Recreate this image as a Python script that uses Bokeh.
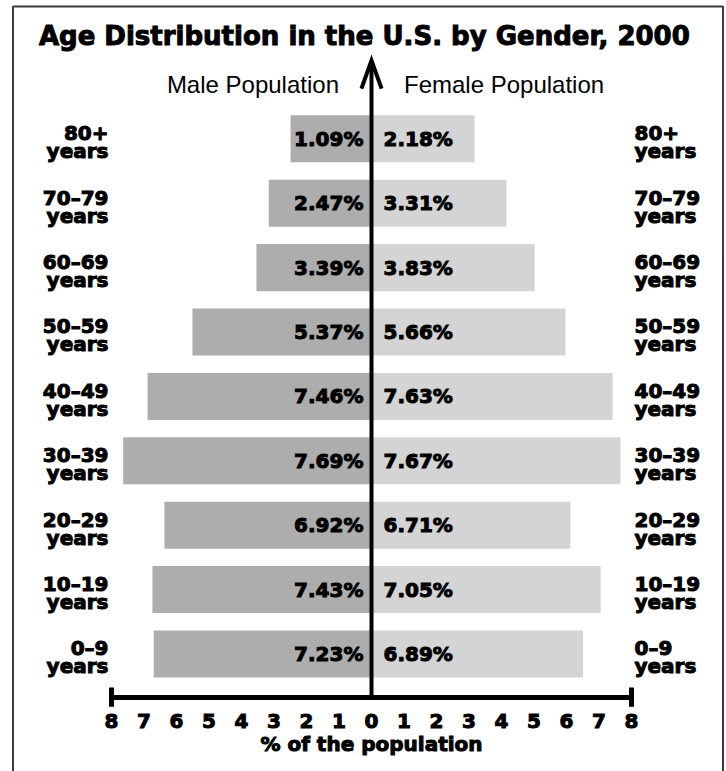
from bokeh.plotting import figure
from bokeh.models import Range1d, ColumnDataSource
from bokeh.core.properties import value
from bokeh.embed import file_html
from bokeh.resources import INLINE

# ---- data ----
age_top = ["0\u20139", "10\u201319", "20\u201329", "30\u201339", "40\u201349",
           "50\u201359", "60\u201369", "70\u201379", "80+"]
age_bottom = ["years"] * 9
male_pct = [7.23, 7.43, 6.92, 7.69, 7.46, 5.37, 3.39, 2.47, 1.09]
female_pct = [6.89, 7.05, 6.71, 7.67, 7.63, 5.66, 3.83, 3.31, 2.18]
# bar lengths as drawn in the picture (axis units)
male_bar = [6.70, 6.74, 6.37, 7.64, 6.89, 5.51, 3.54, 3.16, 2.49]
female_bar = [6.51, 7.05, 6.12, 7.66, 7.42, 5.97, 5.02, 4.15, 3.17]
tick_values = [-8, -7, -6, -5, -4, -3, -2, -1, 0, 1, 2, 3, 4, 5, 6, 7, 8]
tick_labels = ["8", "7", "6", "5", "4", "3", "2", "1", "0",
               "1", "2", "3", "4", "5", "6", "7", "8"]
title_text = "Age Distribution in the U.S. by Gender, 2000"
male_header = "Male Population"
female_header = "Female Population"
axis_title = "% of the population"

rows = list(range(len(age_top)))

W, H = 726, 771
p = figure(width=W, height=H, output_backend="svg", toolbar_location=None,
           x_axis_type=None, y_axis_type=None, min_border=0,
           x_range=Range1d(-11.415, 10.923), y_range=Range1d(-1.8245, 10.148))
p.grid.visible = False
p.outline_line_color = None
p.background_fill_color = "white"
p.border_fill_color = "white"

BOLD = value("DejaVu Sans")
HEAVY = dict(text_font=BOLD, text_font_style="bold", text_color="black",
             text_outline_color="black")

src = ColumnDataSource(dict(
    y=rows,
    mneg=[-v for v in male_bar],
    fbar=female_bar,
    mlab=[f"{v:.2f}%" for v in male_pct],
    flab=[f"{v:.2f}%" for v in female_pct],
    top=age_top,
    bot=age_bottom,
    ytop=[r + 0.087 for r in rows],
    ybot=[r - 0.193 for r in rows],
))

# frame
p.line(x=[-11.03, -11.03, 10.815, 10.815], y=[-3, 10.054, 10.054, -3],
       line_color="#3a3a3a", line_width=2)

# bars
p.hbar(y="y", left="mneg", right=0, height=0.73, fill_color="#adadad",
       line_color=None, source=src)
p.hbar(y="y", left=0, right="fbar", height=0.73, fill_color="#d4d4d4",
       line_color=None, source=src)

# percentage labels
p.text(x=0, y="y", text="mlab", x_offset=-8, text_align="right",
       text_baseline="middle", text_font_size="20px", source=src, **HEAVY)
p.text(x=0, y="y", text="flab", x_offset=12, text_align="left",
       text_baseline="middle", text_font_size="20px", source=src, **HEAVY)

# age labels left and right
for xx, off, al in [(-8, -3, "right"), (8, 3, "left")]:
    p.text(x=xx, y="ytop", text="top", x_offset=off, text_align=al,
           text_baseline="alphabetic", text_font_size="20px", source=src,
           **HEAVY)
    p.text(x=xx, y="ybot", text="bot", x_offset=off, text_align=al,
           text_baseline="alphabetic", text_font_size="20px", source=src,
           **HEAVY)

# vertical axis with arrow
p.line(x=[0, 0], y=[-0.675, 9.19], line_color="black", line_width=4)
p.line(x=[-0.31, 0, 0.31], y=[8.78, 9.216, 8.78], line_color="black",
       line_width=4, line_join="miter")

# horizontal axis
p.line(x=[-8, 8], y=[-0.675, -0.675], line_color="black", line_width=5)
p.segment(x0=[-8, 8], y0=[-0.52, -0.52], x1=[-8, 8], y1=[-0.82, -0.82],
          line_color="black", line_width=5)
p.text(x=tick_values, y=[-1.033] * len(tick_values), text=tick_labels,
       text_align="center", text_baseline="middle", text_font_size="20px",
       **HEAVY)
p.text(x=[0], y=[-1.405], text=[axis_title], text_align="center",
       text_baseline="middle", text_font_size="20px", **HEAVY)

# headers
p.text(x=[-0.22], y=[9.589], text=[title_text], text_align="center",
       text_baseline="middle", text_font_size="26px", **HEAVY)
p.text(x=[-1.0], y=[8.836], text=[male_header], text_align="right",
       text_baseline="middle", text_font=value("Liberation Sans"),
       text_font_size="24px", text_color="black")
p.text(x=[1.0], y=[8.836], text=[female_header], text_align="left",
       text_baseline="middle", text_font=value("Liberation Sans"),
       text_font_size="24px", text_color="black")

open("out.html", "w").write(file_html(p, INLINE))
